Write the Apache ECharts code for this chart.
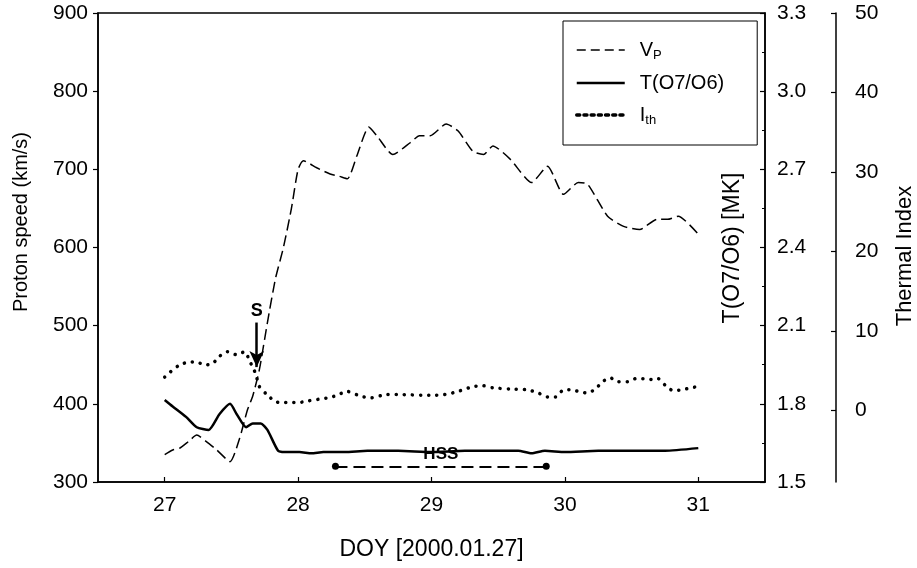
<!DOCTYPE html>
<html>
<head>
<meta charset="utf-8">
<script src="https://cdn.jsdelivr.net/npm/echarts@6/dist/echarts.min.js"></script>
<style>
html,body{margin:0;padding:0;background:#fff;}
#chart{width:917px;height:568px;}
</style>
</head>
<body>
<div id="chart"></div>
<script>
// ---- data ----
var vpDays = [27.00,27.06,27.11,27.18,27.24,27.31,27.39,27.49,27.56,27.62,27.66,27.71,27.77,27.83,27.89,27.95,28.00,28.04,28.14,28.24,28.31,28.37,28.44,28.53,28.59,28.71,28.84,28.91,28.99,29.11,29.20,29.31,29.39,29.46,29.59,29.75,29.87,29.99,30.10,30.17,30.32,30.44,30.56,30.69,30.77,30.85,31.00];
var vpValues = [335,341,343,352,360,352,341,326,355,392,410,444,504,560,600,650,700,711,702,694,691,688,717,754,743,719,734,743,743,758,749,723,719,730,713,683,704,668,683,681,640,627,623,636,636,640,617];

var tDays = [27.00,27.06,27.16,27.24,27.33,27.41,27.49,27.54,27.61,27.66,27.72,27.77,27.85,27.90,28.01,28.10,28.19,28.35,28.52,28.75,29.00,29.25,29.50,29.65,29.75,29.85,30.00,30.25,30.50,30.75,31.00];
var tValues = [1.815,1.79,1.75,1.71,1.70,1.76,1.80,1.76,1.71,1.725,1.725,1.70,1.62,1.615,1.615,1.61,1.615,1.615,1.62,1.62,1.615,1.62,1.62,1.62,1.61,1.62,1.615,1.62,1.62,1.62,1.63];

var ithDays = [27.00,27.06,27.11,27.18,27.24,27.30,27.36,27.41,27.47,27.54,27.60,27.64,27.67,27.69,27.71,27.76,27.83,27.89,27.95,28.01,28.07,28.12,28.18,28.24,28.30,28.37,28.42,28.49,28.55,28.66,28.76,28.99,29.10,29.19,29.31,29.39,29.46,29.59,29.72,29.80,29.87,29.93,29.99,30.05,30.11,30.17,30.23,30.28,30.34,30.40,30.47,30.53,30.59,30.65,30.70,30.75,30.81,30.88,30.94,31.00];
var ithValues = [4.2,5.1,5.7,6.1,6.1,5.7,5.9,6.8,7.4,7.0,7.4,6.1,5.1,4.1,3.0,2.1,1.1,1.0,1.0,1.0,1.2,1.3,1.5,1.6,2.0,2.4,2.1,1.7,1.6,2.0,2.0,1.9,2.0,2.35,3.0,3.1,2.85,2.7,2.6,2.2,1.7,1.7,2.6,2.6,2.35,2.2,2.7,3.6,4.1,3.6,3.6,4.0,4.0,3.9,4.0,3.2,2.5,2.6,2.85,3.0];

var xTicks = [27,28,29,30,31];
var thermalTicks = [0,10,20,30,40,50];

// annotations (data coordinates)
var shockDay = 27.69, shockFrom = 504, shockTo = 447;
var hssStart = 28.28, hssEnd = 29.86, hssLevel = 320;

function pairs(xs, ys){ return xs.map(function(x,i){ return [x, ys[i]]; }); }

var FONT = 'Liberation Sans, Arial, Helvetica, sans-serif';
var chart = echarts.init(document.getElementById('chart'), null, {renderer:'canvas'});

var option = {
  animation: false,
  backgroundColor: '#fff',
  textStyle: {fontFamily: FONT, color: '#000'},
  grid: {left: 98, right: 152, top: 13, bottom: 86, show: true, borderColor: '#000', borderWidth: 1.5, backgroundColor: 'transparent'},
  legend: {
    orient: 'vertical', left: 563, top: 21,
    padding: [18, 33, 18, 12], itemGap: 11, itemWidth: 48, itemHeight: 14,
    borderColor: '#000', borderWidth: 1, backgroundColor: '#fff',
    itemStyle: {opacity: 0, borderWidth: 0},
    data: [
      {name: 'Vp', lineStyle: {width: 1.5, type: [9, 5]}},
      {name: 'T(O7/O6)', lineStyle: {width: 2.5, type: 'solid'}},
      {name: 'Ith', lineStyle: {width: 3.5, type: [3, 4.2]}}
    ],
    formatter: function(n){
      if (n === 'Vp') return '{n|V}{s|P}';
      if (n === 'Ith') return '{n|I}{s|th}';
      return '{n|' + n + '}';
    },
    textStyle: {
      fontFamily: FONT, color: '#000', fontSize: 20, padding: [0,0,0,10],
      rich: {
        n: {fontSize: 20, fontFamily: FONT, color: '#000', lineHeight: 24},
        s: {fontSize: 13, fontFamily: FONT, color: '#000', lineHeight: 24, verticalAlign: 'bottom', padding: [10,0,0,0]}
      }
    }
  },
  xAxis: {
    type: 'value', min: 26.5, max: 31.5,
    axisLine: {show: true, onZero: false, lineStyle: {color: '#000', width: 1.5}},
    axisTick: {show: true, inside: true, length: 5, lineStyle: {color: '#000', width: 1.2}, customValues: xTicks},
    axisLabel: {show: true, fontSize: 21, color: '#000', fontFamily: FONT, margin: 13, customValues: xTicks},
    splitLine: {show: false},
    name: 'DOY [2000.01.27]', nameLocation: 'middle', nameGap: 56,
    nameTextStyle: {fontSize: 23, color: '#000', fontFamily: FONT}
  },
  yAxis: [
    {
      type: 'value', position: 'left', min: 300, max: 900, interval: 100,
      axisLine: {show: true, onZero: false, lineStyle: {color: '#000', width: 1.5}},
      axisTick: {show: true, inside: false, length: 5, lineStyle: {color: '#000', width: 1.2}},
      axisLabel: {fontSize: 21, color: '#000', fontFamily: FONT, margin: 10},
      splitLine: {show: false}
    },
    {
      type: 'value', position: 'right', min: 1.5, max: 3.3, interval: 0.3,
      axisLine: {show: true, onZero: false, lineStyle: {color: '#000', width: 1.5}},
      axisTick: {show: true, inside: true, length: 5, lineStyle: {color: '#000', width: 1.2}},
      minorTick: {show: true, splitNumber: 2, length: 3, lineStyle: {color: '#000', width: 1}},
      axisLabel: {fontSize: 21, color: '#000', fontFamily: FONT, margin: 12, formatter: function(v){ return v.toFixed(1); }},
      splitLine: {show: false}
    },
    {
      type: 'value', position: 'right', offset: 71, min: -9, max: 50,
      axisLine: {show: true, onZero: false, lineStyle: {color: '#000', width: 1.5}},
      axisTick: {show: true, inside: true, length: 5, lineStyle: {color: '#000', width: 1.2}, customValues: thermalTicks},
      axisLabel: {fontSize: 21, color: '#000', fontFamily: FONT, margin: 19, customValues: thermalTicks},
      splitLine: {show: false}
    }
  ],
  graphic: [
    {type: 'text', x: 21, y: 222, rotation: Math.PI/2,
     style: {text: 'Proton speed (km/s)', fontSize: 20, fontFamily: FONT, fill: '#000', align: 'center', verticalAlign: 'middle', textAlign: 'center', textVerticalAlign: 'middle'}},
    {type: 'text', x: 733, y: 248, rotation: Math.PI/2,
     style: {text: 'T(O7/O6) [MK]', fontSize: 23, fontFamily: FONT, fill: '#000', align: 'center', verticalAlign: 'middle', textAlign: 'center', textVerticalAlign: 'middle'}},
    {type: 'text', x: 905, y: 256, rotation: Math.PI/2,
     style: {text: 'Thermal Index', fontSize: 22, fontFamily: FONT, fill: '#000', align: 'center', verticalAlign: 'middle', textAlign: 'center', textVerticalAlign: 'middle'}}
  ],
  series: [
    {
      name: 'Vp', type: 'line', xAxisIndex: 0, yAxisIndex: 0,
      data: pairs(vpDays, vpValues), symbol: 'none', smooth: 0.2,
      lineStyle: {color: '#000', width: 1.5, type: [11, 5]},
      itemStyle: {color: '#000'},
      markLine: {
        silent: true,
        data: [
          [
            {coord: [shockDay, shockFrom], symbol: 'none',
             lineStyle: {type: 'solid', width: 2.5, color: '#000'},
             label: {show: true, position: 'start', formatter: 'S', fontSize: 18, fontWeight: 'bold', color: '#000', fontFamily: FONT, distance: 3}},
            {coord: [shockDay, shockTo], symbol: 'arrow', symbolSize: [11, 16]}
          ],
          [
            {coord: [hssStart, hssLevel], symbol: 'circle', symbolSize: 7,
             lineStyle: {type: [12, 6], width: 2, color: '#000'},
             label: {show: true, position: 'middle', formatter: 'HSS', fontSize: 17, fontWeight: 'bold', color: '#000', fontFamily: FONT, distance: 4}},
            {coord: [hssEnd, hssLevel], symbol: 'circle', symbolSize: 7}
          ]
        ]
      }
    },
    {
      name: 'T(O7/O6)', type: 'line', xAxisIndex: 0, yAxisIndex: 1,
      data: pairs(tDays, tValues), symbol: 'none', smooth: 0.2,
      lineStyle: {color: '#000', width: 2.5, type: 'solid'},
      itemStyle: {color: '#000'}
    },
    {
      name: 'Ith', type: 'line', xAxisIndex: 0, yAxisIndex: 2,
      data: pairs(ithDays, ithValues), symbol: 'none', smooth: 0.2,
      lineStyle: {color: '#000', width: 3.5, type: [0.1, 8], cap: 'round'},
      itemStyle: {color: '#000'}
    }
  ]
};
chart.setOption(option);
</script>
</body>
</html>
